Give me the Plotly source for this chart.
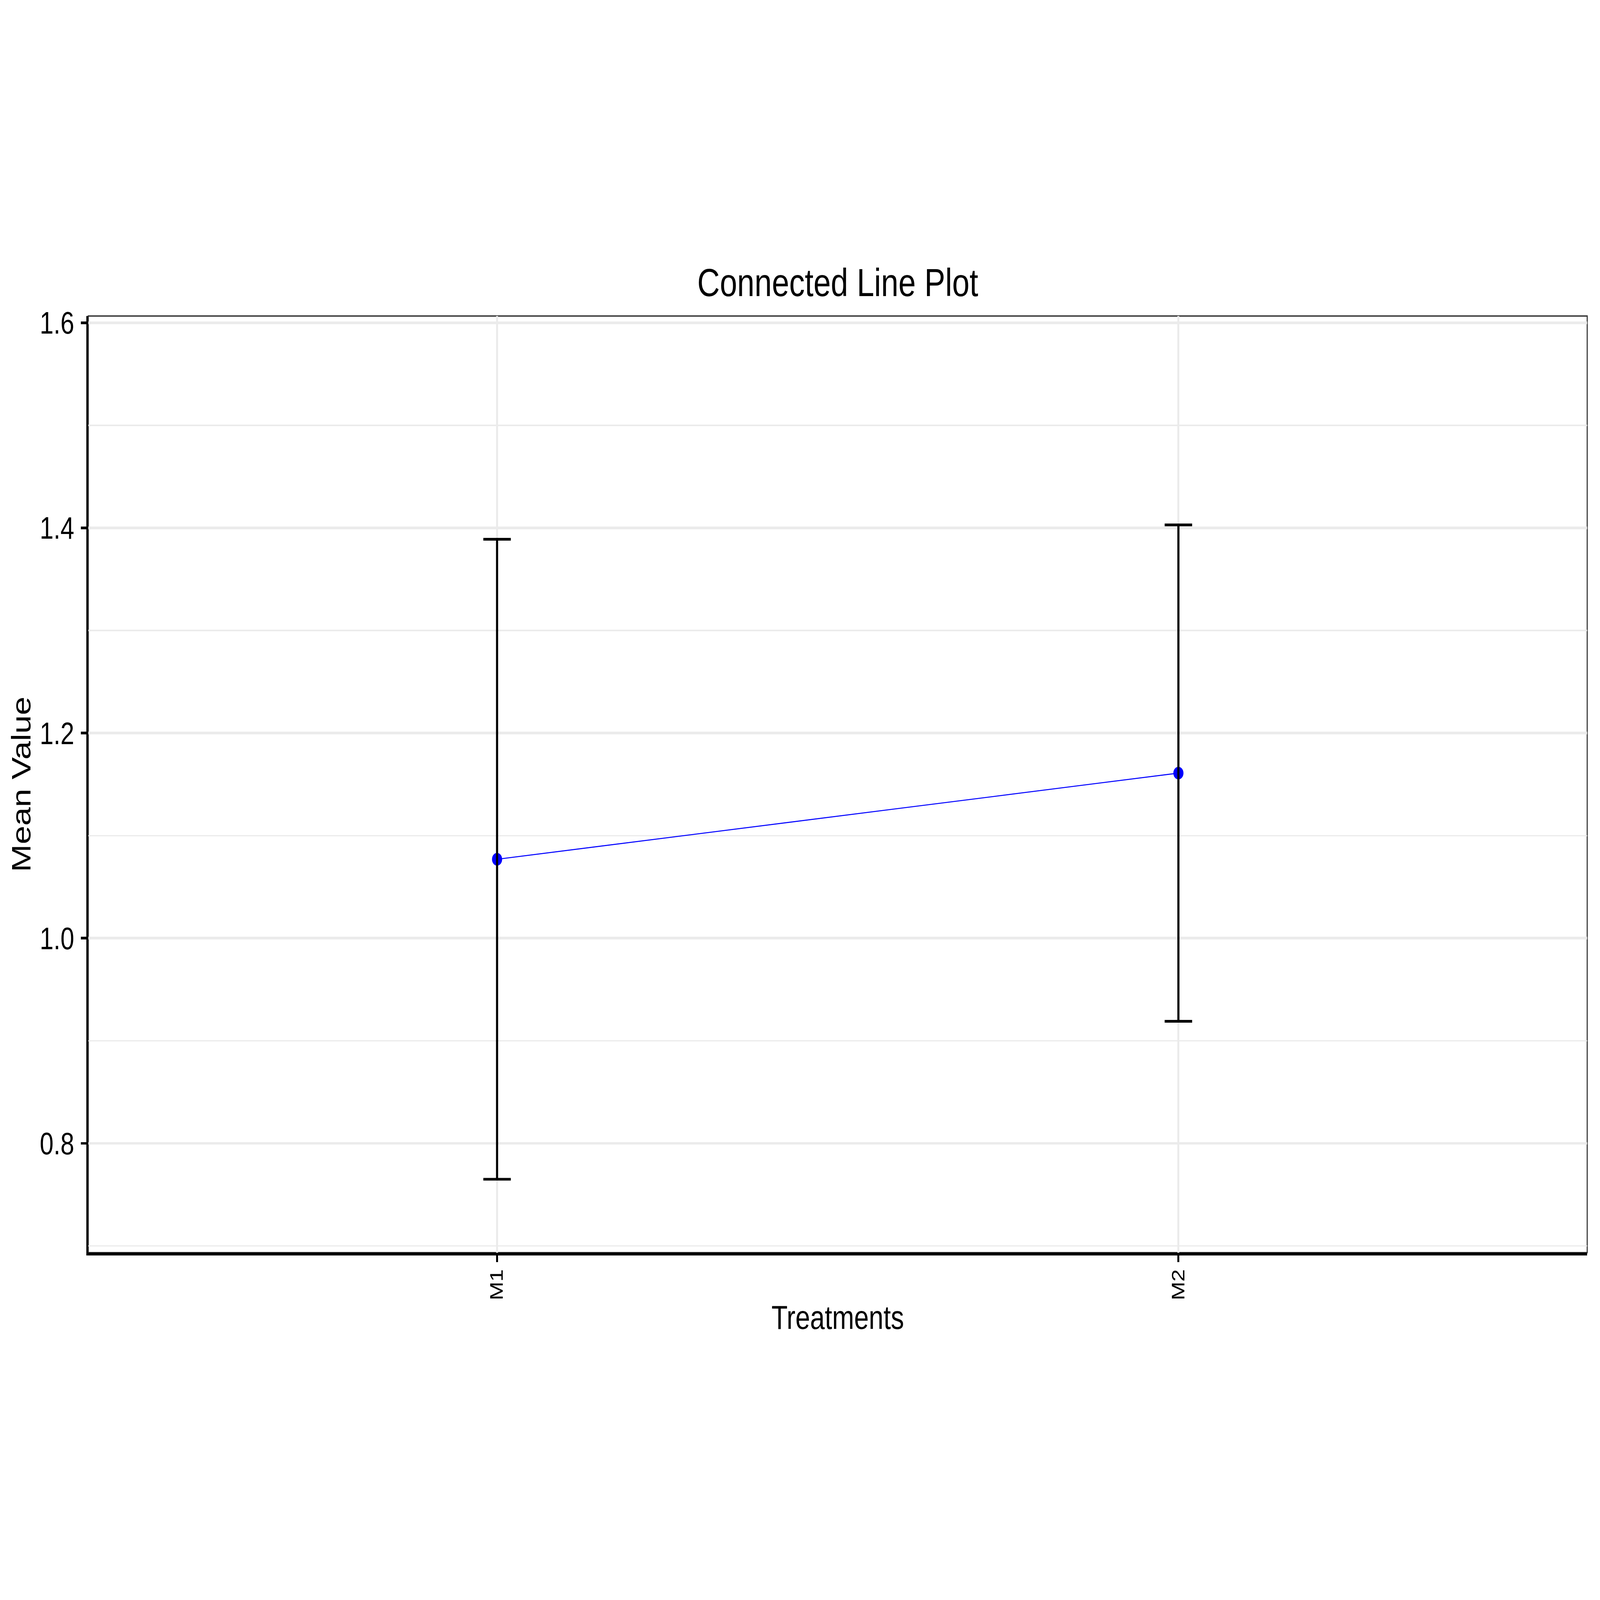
import plotly.graph_objects as go

# ---- data ----
treatments = ["M1", "M2"]
mean_values = [1.077, 1.161]
error_values = [0.312, 0.242]

y_ticks = [0.8, 1.0, 1.2, 1.4, 1.6]
y_tick_labels = ["0.8", "1.0", "1.2", "1.4", "1.6"]
y_minor_ticks = [0.7, 0.9, 1.1, 1.3, 1.5]

FONT = "Liberation Sans, Arial, sans-serif"
W, H = 6000, 4800

fig = go.Figure()

# connected line with points
fig.add_trace(go.Scatter(
    x=treatments, y=mean_values,
    mode="lines+markers",
    line=dict(color="#0000FF", width=3),
    marker=dict(color="#0000FF", size=38, line=dict(width=0)),
    showlegend=False, hoverinfo="skip",
))

# error bars drawn on top of points
fig.add_trace(go.Scatter(
    x=treatments, y=mean_values,
    mode="markers",
    marker=dict(color="rgba(0,0,0,0)", size=1),
    error_y=dict(type="data", array=error_values, visible=True,
                 color="#000000", thickness=8, width=51.5),
    showlegend=False, hoverinfo="skip",
))

fig.update_layout(
    width=W, height=H, autosize=False,
    margin=dict(l=331, r=48, t=948, b=1042, autoexpand=False),
    paper_bgcolor="white", plot_bgcolor="white",
    font=dict(family=FONT, color="black"),
    title=dict(
        text="Connected Line Plot",
        font=dict(family=FONT, size=117, color="black"),
        x=0.5, xref="paper", xanchor="center",
        y=1, yref="paper", yanchor="bottom",
        pad=dict(b=60),
    ),
    shapes=[dict(
        type="rect", xref="paper", yref="paper",
        x0=0, x1=1, y0=0, y1=1,
        line=dict(color="#333333", width=4),
        fillcolor="rgba(0,0,0,0)", layer="below",
    )],
)

fig.update_xaxes(
    type="category",
    categoryorder="array", categoryarray=treatments,
    range=[-0.6, 1.6],
    showgrid=True, gridcolor="#EBEBEB", gridwidth=8,
    showline=True, linecolor="black", linewidth=8, mirror=False,
    ticks="outside", ticklen=20, tickwidth=8, tickcolor="black",
    tickangle=-90,
    tickfont=dict(family=FONT, size=67, color="black"),
    ticklabelstandoff=-5,
    title=dict(text="Treatments", font=dict(family=FONT, size=99, color="black"),
               standoff=20),
    zeroline=False, automargin=False,
)

fig.update_yaxes(
    range=[0.6934, 1.6067],
    tickmode="array", tickvals=y_ticks, ticktext=y_tick_labels,
    showgrid=True, gridcolor="#EBEBEB", gridwidth=8,
    minor=dict(showgrid=True, gridcolor="#EBEBEB", gridwidth=4,
               tickmode="array", tickvals=y_minor_ticks, ticks=""),
    showline=True, linecolor="black", linewidth=8, mirror=False,
    ticks="outside", ticklen=20, tickwidth=8, tickcolor="black",
    tickfont=dict(family=FONT, size=93, color="black"),
    ticklabelstandoff=6,
    title=dict(text="Mean Value", font=dict(family=FONT, size=100, color="black"),
               standoff=4),
    zeroline=False, automargin=False,
)

# Fit the fixed 6000x4800 figure into whatever viewport the page gets.
post = """
var gd = document.getElementById('{plot_id}');
var de = document.documentElement, bd = document.body;
de.style.margin = '0'; de.style.padding = '0'; de.style.overflow = 'hidden';
bd.style.margin = '0'; bd.style.padding = '0'; bd.style.overflow = 'hidden';
var vw = window.innerWidth, vh = window.innerHeight;
gd.style.transformOrigin = '0 0';
gd.style.transform = 'scale(' + (vw / %d) + ',' + (vh / %d) + ')';
""" % (W, H)

fig.write_html("out.html", post_script=post,
               config={"displayModeBar": False, "staticPlot": True})
